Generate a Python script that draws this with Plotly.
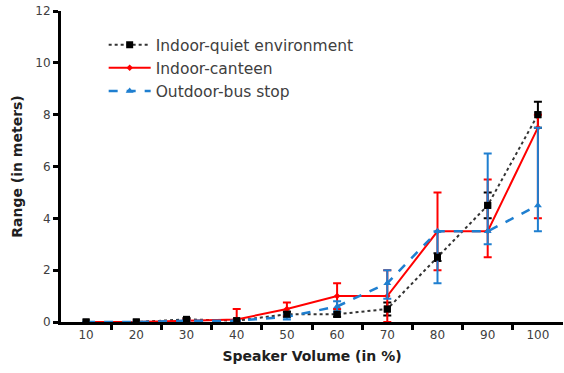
import plotly.graph_objects as go

volume = [10, 20, 30, 40, 50, 60, 70, 80, 90, 100]

quiet = [0, 0, 0.1, 0.05, 0.3, 0.3, 0.5, 2.5, 4.5, 8.0]
quiet_err = [0, 0, 0.05, 0.05, 0.1, 0.1, 0.25, 0.15, 0.5, 0.5]

canteen = [0, 0, 0.05, 0.1, 0.5, 1.0, 1.0, 3.5, 3.5, 7.5]
canteen_up = [0, 0, 0.05, 0.4, 0.25, 0.5, 1.0, 1.5, 2.0, 0.5]
canteen_dn = [0, 0, 0.05, 0.1, 0.25, 0.5, 1.0, 1.5, 1.0, 3.5]

bus = [0, 0, 0.05, 0.05, 0.2, 0.6, 1.5, 3.5, 3.5, 4.5]
bus_up = [0, 0, 0.02, 0.02, 0.1, 0.2, 0.5, 0.0, 3.0, 3.0]
bus_dn = [0, 0, 0.02, 0.02, 0.1, 0.2, 0.6, 2.0, 0.5, 1.0]

fig = go.Figure()

fig.add_trace(go.Scatter(
    x=volume, y=quiet, name="Indoor-quiet environment", legendrank=1,
    mode="lines+markers",
    line=dict(color="#333333", width=2, dash="dot"),
    marker=dict(symbol="square", size=7, color="#000000"),
    error_y=dict(type="data", array=quiet_err, color="#000000", thickness=2, width=4),
))
fig.add_trace(go.Scatter(
    x=volume, y=canteen, name="Indoor-canteen", legendrank=2,
    mode="lines+markers",
    line=dict(color="#ff0000", width=2),
    marker=dict(symbol="diamond", size=5, color="#ff0000"),
    error_y=dict(type="data", symmetric=False, array=canteen_up, arrayminus=canteen_dn,
                 color="#ff0000", thickness=2, width=4),
))
fig.add_trace(go.Scatter(
    x=volume, y=bus, name="Outdoor-bus stop", legendrank=3,
    mode="lines+markers",
    line=dict(color="#1f7fd0", width=2.5, dash="dash"),
    marker=dict(symbol="triangle-up", size=7, color="#1f7fd0"),
    error_y=dict(type="data", symmetric=False, array=bus_up, arrayminus=bus_dn,
                 color="#1f7fd0", thickness=2, width=4),
))
# black markers drawn on top, as in the original
fig.add_trace(go.Scatter(
    x=volume, y=quiet, mode="markers", showlegend=False, hoverinfo="skip",
    marker=dict(symbol="square", size=7, color="#000000"),
))

fig.update_layout(
    width=564, height=373,
    margin=dict(l=61, r=1, t=11, b=51),
    paper_bgcolor="white", plot_bgcolor="white",
    font=dict(family="DejaVu Sans", size=12, color="#404040"),
    legend=dict(x=0.085, y=0.945, xanchor="left", yanchor="top",
                bgcolor="rgba(0,0,0,0)", font=dict(size=15.5, color="#404040"),
                itemwidth=42, tracegroupgap=0),
    showlegend=True,
)
fig.update_xaxes(
    range=[5, 105], tickvals=volume, ticktext=[str(v) for v in volume],
    ticks="", showgrid=False, zeroline=False,
    showline=True, linecolor="black", linewidth=3,
    minor=dict(tickvals=[15, 25, 35, 45, 55, 65, 75, 85, 95], ticks="outside",
               ticklen=5, tickwidth=3, tickcolor="black", showgrid=False),
    tickfont=dict(size=12, color="#404040"),
    title=dict(text="<b>Speaker Volume (in %)</b>", font=dict(size=14, color="#202020"), standoff=10),
)
fig.update_yaxes(
    range=[0, 12], tickvals=[0, 2, 4, 6, 8, 10, 12],
    ticks="outside", ticklen=5, tickwidth=3, tickcolor="black",
    showgrid=False, zeroline=False,
    showline=True, linecolor="black", linewidth=3,
    tickfont=dict(size=12, color="#404040"),
    title=dict(text="<b>Range (in meters)</b>", font=dict(size=14, color="#202020"), standoff=10),
)

fig.write_html("out.html")
